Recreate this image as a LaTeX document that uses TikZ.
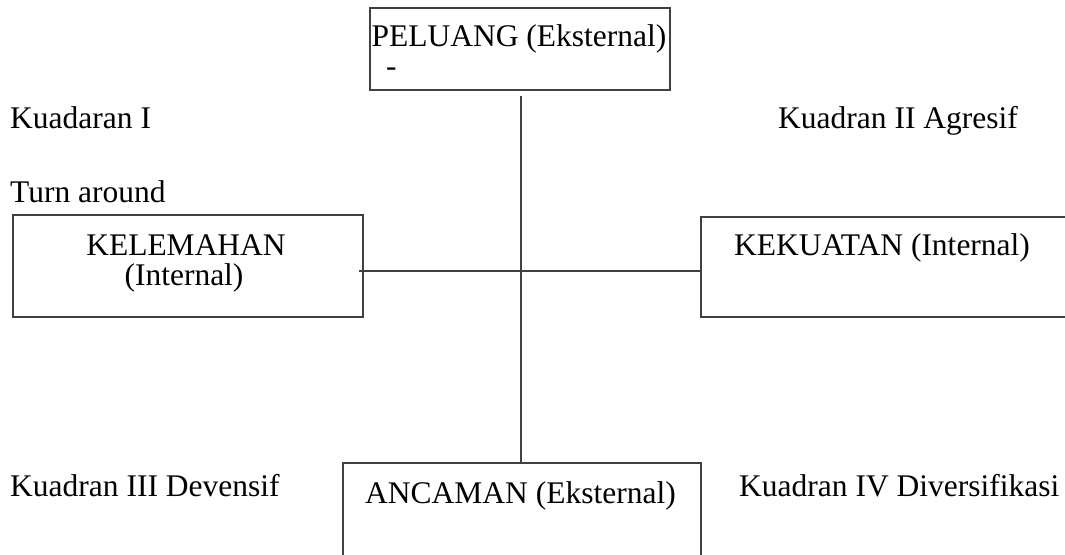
\documentclass[tikz,border=0pt]{standalone}
\usepackage{fontspec}
\setmainfont{Liberation Serif}
\begin{document}
\begin{tikzpicture}[x=1pt,y=-1pt,
  box/.style={draw=black!75,line width=1.1pt,rectangle,inner sep=0pt},
  lbl/.style={inner sep=0pt,font=\fontsize{31.5}{36}\selectfont,text=black},
  conn/.style={draw=black!75,line width=1.1pt}]
\useasboundingbox (0,0) rectangle (1065,554);
\clip (0,0) rectangle (1065,554);
\node[box,minimum width=300pt,minimum height=82pt] (top) at (520,49) {};
\node[box,minimum width=350pt,minimum height=102pt] (left) at (188,266) {};
\node[box,minimum width=389pt,minimum height=100pt] (right) at (895.5,267) {};
\node[box,minimum width=358pt,minimum height=137pt] (bot) at (522,531.5) {};
% labels
\node[lbl,anchor=base] (tp) at (519,46) {PELUANG (Eksternal)};
\node[lbl,anchor=base west] (dash) at (386,76) {-};
\node[lbl,anchor=base west] (q1) at (10,128) {Kuadaran I};
\node[lbl,anchor=base west] (ta) at (10,202) {Turn around};
\node[lbl,anchor=base west] (q2) at (778,128) {Kuadran II Agresif};
\node[lbl,anchor=base] (lw1) at (186,255) {KELEMAHAN};
\node[lbl,anchor=base] (lw2) at (184,285) {(Internal)};
\node[lbl,anchor=base west] (kk) at (734,255) {KEKUATAN (Internal)};
\node[lbl,anchor=base west] (q3) at (10,496) {Kuadran III Devensif};
\node[lbl,anchor=base west] (an) at (365,503) {ANCAMAN (Eksternal)};
\node[lbl,anchor=base west] (q4) at (739,496) {Kuadran IV Diversifikasi};
% connectors
\coordinate (vt) at (521,96);
\coordinate (hl) at (359,271);
\draw[conn] (vt) -- (vt |- bot.north);
\draw[conn] (hl) -- (hl -| right.west);
\end{tikzpicture}
\end{document}
